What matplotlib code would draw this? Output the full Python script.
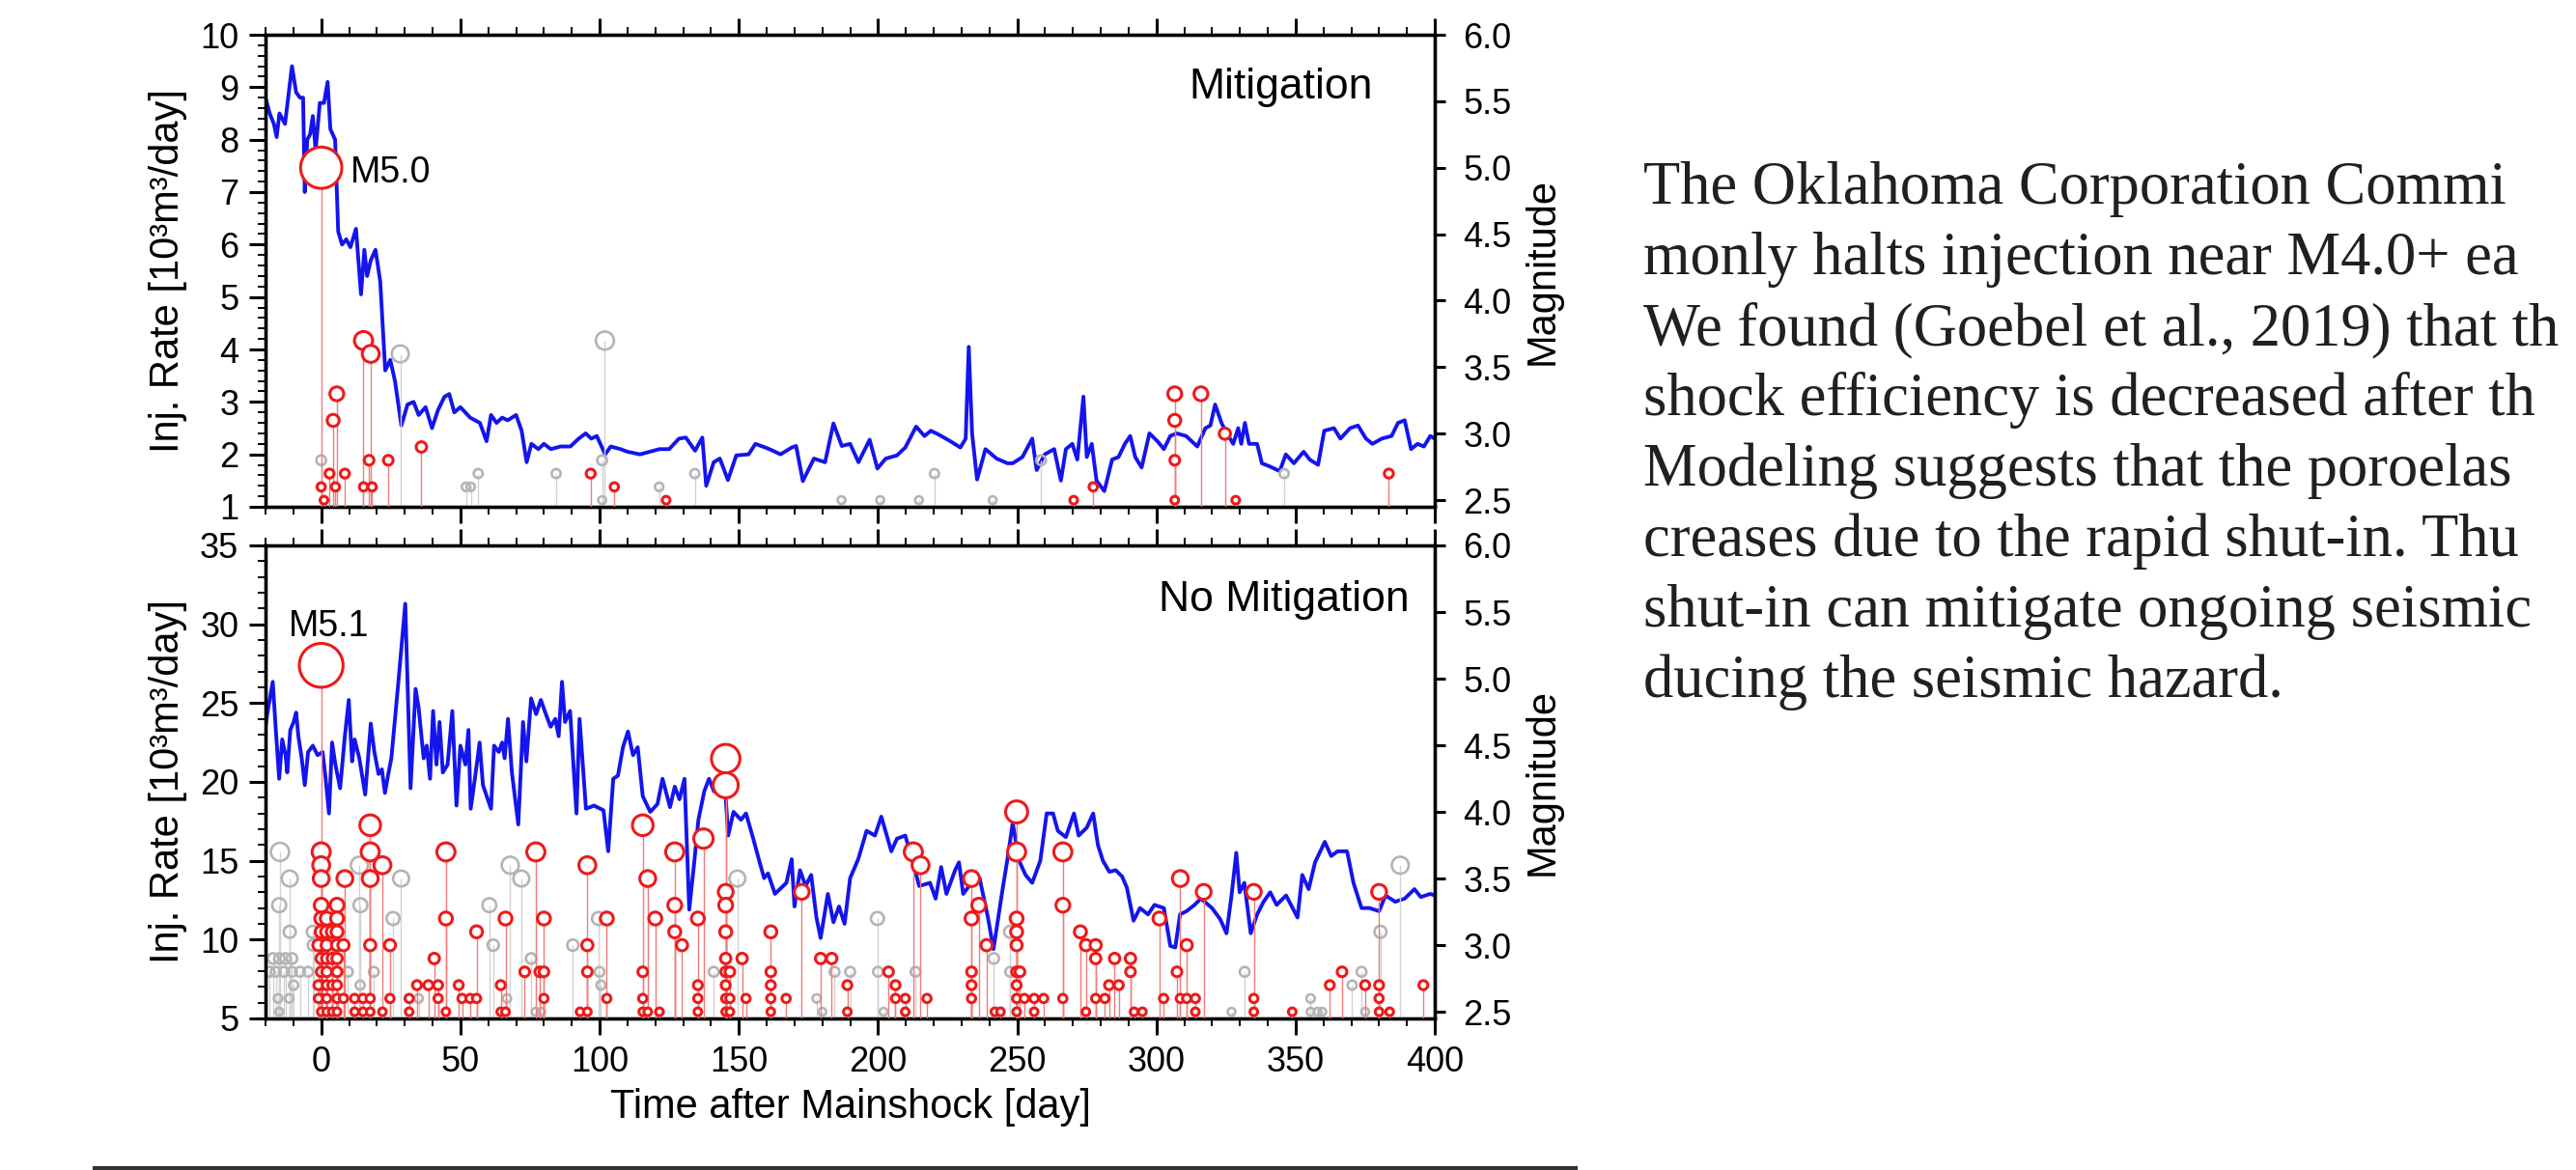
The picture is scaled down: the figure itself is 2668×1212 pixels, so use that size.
import numpy as np
import matplotlib.pyplot as plt
from matplotlib.lines import Line2D
from matplotlib.ticker import MultipleLocator, FormatStrFormatter

plt.rcParams['font.family'] = ['Liberation Sans', 'DejaVu Sans']

# injection rate [10^3 m^3/day] vs day after mainshock, "Mitigation" well
mit_rate = [(-20, 8.8), (-18.5, 8.5), (-17, 8.3), (-16, 8.05), (-15, 8.5), (-14, 8.4), (-13, 8.3),
            (-10.5, 9.4), (-9, 8.9), (-7.6, 8.8), (-6.5, 8.8), (-5.9, 7.0), (-5, 8.0), (-4, 8.1),
            (-3, 8.45), (-2, 7.8), (-0.5, 8.7), (1, 8.7), (2.3, 9.1), (3.3, 8.2), (5, 8.0),
            (6.1, 6.25), (7.5, 6.0), (9, 6.1), (10.5, 5.95), (12.5, 6.3), (14.3, 5.05), (15.5, 5.9),
            (16.5, 5.4), (17.8, 5.7), (19.5, 5.9), (21.2, 5.3), (23, 3.6), (24.8, 3.8), (26.5, 3.4),
            (28.8, 2.55), (31, 2.95), (33.2, 3.0), (35, 2.75), (37.5, 2.9), (39.8, 2.5), (42, 2.85),
            (44.3, 3.1), (46, 3.15), (47.8, 2.8), (50, 2.9), (53.5, 2.7), (57, 2.6), (59.4, 2.25),
            (61, 2.75), (63, 2.6), (65, 2.7), (67, 2.65), (70, 2.75), (72, 2.45), (73.8, 1.85),
            (75.5, 2.2), (78, 2.1), (80, 2.2), (82.5, 2.1), (86, 2.15), (89.5, 2.15), (92.5, 2.3),
            (95, 2.4), (97, 2.3), (99, 2.35), (102, 2.0), (104, 2.15), (107.5, 2.1), (110, 2.05),
            (114.5, 2.0), (118, 2.05), (121.5, 2.1), (125, 2.1), (128.5, 2.3), (131, 2.32),
            (134.3, 2.07), (136.9, 2.32), (138.3, 1.4), (141, 1.85), (143.2, 1.92), (146.1, 1.51),
            (149.1, 1.98), (153.5, 2.0), (156, 2.2), (161, 2.1), (165, 2.0), (169, 2.13), (170.6, 2.16),
            (173, 1.49), (177, 1.92), (181, 1.85), (184, 2.59), (187, 2.16), (190, 2.2), (193, 1.85),
            (197, 2.28), (199.8, 1.73), (202.8, 1.92), (206.8, 1.98), (209.8, 2.13), (213.7, 2.53),
            (216.7, 2.35), (219, 2.45), (221.7, 2.38), (225.7, 2.26), (229.6, 2.13), (231.5, 2.3),
            (232.6, 4.05), (233.8, 2.4), (235.6, 1.52), (238.6, 2.1), (242.6, 1.92), (246.5, 1.83),
            (248.4, 1.83), (251.9, 1.95), (255.4, 2.3), (257, 1.7), (259.9, 2.0), (263.3, 2.1),
            (265.7, 1.5), (267.5, 2.1), (269.8, 2.2), (271.6, 1.9), (273.8, 3.1), (275, 1.95),
            (276.8, 2.2), (278.5, 1.5), (281.3, 1.3), (284.1, 1.9), (286.4, 1.95), (288.7, 2.2),
            (290.6, 2.35), (292.4, 1.95), (294.7, 1.75), (297.5, 2.4), (300.4, 2.25), (302.7, 2.1),
            (305, 2.35), (307.3, 2.4), (310.7, 2.35), (314.7, 2.15), (317.6, 2.5), (319.4, 2.55),
            (321.1, 2.95), (323.4, 2.6), (325.3, 2.4), (327.6, 2.2), (329.4, 2.5), (330.5, 2.2),
            (331.8, 2.6), (333.3, 2.2), (336.2, 2.2), (337.9, 1.83), (340.7, 1.77), (344.3, 1.68),
            (346.5, 2.0), (349.4, 1.83), (352.9, 2.05), (355.1, 1.9), (358.1, 1.8), (360.3, 2.45),
            (363.8, 2.5), (366.1, 2.3), (369.6, 2.5), (372.4, 2.55), (375.3, 2.3), (377.6, 2.2),
            (381, 2.3), (384.5, 2.35), (386.8, 2.6), (389.2, 2.65), (391.5, 2.1), (393.8, 2.2),
            (396.1, 2.15), (398.4, 2.35), (400, 2.3)]

# injection rate, "No Mitigation" well
nomit_rate = [(-20, 23.5), (-19.4, 24.3), (-17.4, 26.35), (-16.3, 23.3), (-15.1, 20.2), (-14, 22.7),
              (-12.8, 21.7), (-12.2, 20.6), (-11.1, 23.3), (-9.9, 23.8), (-9, 24.4), (-8.2, 22.9),
              (-7, 21.5), (-5.9, 19.8), (-4.7, 21.9), (-3, 22.3), (-1.3, 21.7), (0.5, 21.9), (1.6, 20.2),
              (2.8, 18.0), (3.9, 22.5), (5.1, 21.1), (6.8, 19.6), (8.5, 22.9), (9.9, 25.2), (11.1, 21.3),
              (12, 22.7), (13.7, 21.5), (15.8, 19.2), (17.8, 23.7), (19.1, 21.9), (20.6, 20.5),
              (21.8, 20.8), (22.9, 19.3), (24.1, 20.5), (25.2, 21.5), (27.5, 25.9), (30.2, 31.3),
              (32.1, 19.6), (33.9, 25.9), (35, 24.7), (36.8, 21.5), (37.9, 22.3), (39.1, 20.2),
              (40.2, 24.5), (41.4, 21.1), (42.5, 23.8), (43.7, 20.6), (45.4, 21.1), (47.1, 24.5),
              (48.6, 18.5), (50, 22.3), (51.8, 21.1), (52.9, 23.3), (53.7, 18.3), (55.2, 20.2),
              (56.9, 22.5), (58.1, 19.8), (61, 18.3), (62.1, 22.3), (63.8, 21.9), (65, 22.5),
              (65.9, 21.5), (67.1, 24.0), (68.5, 20.6), (70.8, 17.3), (72.5, 23.8), (73.7, 21.3),
              (75.4, 25.3), (77.2, 24.3), (78.9, 25.2), (80.7, 24.3), (82.4, 23.5), (84.1, 24.0),
              (85.3, 22.9), (86.5, 26.35), (87.6, 23.8), (89.4, 24.5), (91.7, 18.0), (92.8, 24.0),
              (95.1, 18.3), (98, 18.5), (101.4, 18.2), (103.1, 15.6), (104.9, 20.2), (106.6, 20.4),
              (108.4, 22.2), (110.2, 23.2), (112, 21.7), (113.7, 22.2), (115.5, 19.1), (118.2, 18.1),
              (120.8, 18.6), (122.6, 20.2), (125.3, 18.4), (127, 19.7), (128.7, 18.9), (130.5, 20.2),
              (132.2, 11.9), (134, 14.9), (135.5, 17.6), (137.6, 19.4), (139.3, 20.2), (141.1, 19.4),
              (142.9, 20.2), (144.8, 20.4), (146.2, 16.6), (148.1, 18.1), (150.8, 17.6), (152.6, 18.0),
              (155.2, 16.4), (157.5, 14.9), (159.1, 13.9), (160.5, 14.2), (163, 12.9), (167.1, 13.6),
              (169, 15.1), (170, 12.1), (172, 14.4), (174, 13.4), (176, 14.1), (177.9, 11.4),
              (179.4, 10.1), (182, 12.9), (184, 11.1), (186, 12.1), (188, 11.0), (190, 13.9),
              (192.9, 15.1), (195.9, 16.9), (198.9, 16.6), (201.2, 17.8), (204.8, 15.6), (206.8, 16.4),
              (209.8, 16.6), (211.8, 15.4), (214.8, 13.4), (218.7, 13.6), (220.7, 12.6), (222.7, 14.6),
              (224.6, 12.9), (227.7, 14.4), (229.1, 14.9), (230.6, 12.9), (233.6, 13.6), (236.5, 13.9),
              (239.5, 11.4), (241.5, 9.4), (244.5, 12.9), (246.5, 15.1), (248.4, 17.4), (250.7, 15.0),
              (253, 14.1), (255.4, 13.6), (258.3, 15.0), (260.6, 18.0), (262.9, 18.0), (264.6, 16.9),
              (267.5, 16.5), (270.4, 18.0), (272.1, 16.6), (275, 17.1), (277.3, 18.0), (279, 16.0),
              (280.8, 15.0), (283.1, 14.3), (285.4, 14.4), (287.7, 14.0), (289.4, 13.3), (291.8, 11.2),
              (294.1, 12.0), (297, 11.6), (299.3, 12.2), (302.7, 12.0), (305, 9.6), (306.8, 9.5),
              (308.5, 11.6), (310.8, 11.8), (313.7, 12.2), (316, 12.6), (320, 12.0), (322.9, 11.3),
              (325.2, 10.4), (327, 12.8), (328.7, 15.5), (329.9, 13.0), (331.6, 13.6), (333.9, 10.4),
              (336.2, 11.6), (338.5, 12.4), (340.9, 13.0), (343.2, 12.2), (346.6, 12.8), (350.7, 11.4),
              (352.4, 14.1), (354.7, 13.2), (357, 14.9), (360.5, 16.2), (362.8, 15.3), (365.1, 15.6),
              (368.5, 15.6), (370.8, 13.6), (373.7, 12.0), (376.6, 12.0), (380, 11.8), (382.3, 12.8),
              (385.8, 12.4), (389.2, 12.6), (392.7, 13.2), (395, 12.7), (398.4, 12.9), (400, 12.8)]

# earthquakes (day, magnitude): red = near the well, gray = other events
mit_red = [(0, 5.0), (15.2, 3.7), (17.8, 3.6), (5.6, 3.3), (4.3, 3.1), (36, 2.9), (17.2, 2.8),
           (24.1, 2.8), (3, 2.7), (8.5, 2.7), (96.8, 2.7), (0, 2.6), (5.1, 2.6), (15.2, 2.6),
           (18.3, 2.6), (1, 2.5), (105.3, 2.6), (123.9, 2.5), (270.3, 2.5), (277.3, 2.6),
           (306.6, 3.3), (306.6, 3.1), (306.6, 2.8), (306.6, 2.5), (316, 3.3), (324.6, 3.0),
           (328.5, 2.5), (383.5, 2.7)]
mit_gray = [(0, 2.8), (28.4, 3.6), (52, 2.6), (53.7, 2.6), (56.4, 2.7), (84.4, 2.7), (100.9, 2.8),
            (100.9, 2.5), (101.9, 3.7), (121.4, 2.6), (134.2, 2.7), (186.9, 2.5), (200.8, 2.5),
            (214.7, 2.5), (220.3, 2.7), (241.2, 2.5), (258.6, 2.8), (345.9, 2.7)]

nomit_red = [(0, 5.1), (0, 3.7), (0, 3.6), (0, 3.5), (0, 3.3), (0, 3.2), (0, 3.1), (0, 3.0), (0, 2.9),
             (0, 2.8), (0, 2.7), (0, 2.6), (0, 2.5),
             (-1, 3.0), (-1, 2.7), (-1, 2.6),
             (2, 3.2), (2, 3.1), (2, 3.0), (2, 2.9), (2, 2.8), (2, 2.7), (2, 2.6), (2, 2.5),
             (4, 3.1), (4, 2.9), (4, 2.7), (4, 2.5),
             (5.7, 3.3), (5.7, 3.2), (5.7, 3.1), (5.7, 3.0), (5.7, 2.9), (5.7, 2.8), (5.7, 2.7),
             (5.7, 2.6), (5.7, 2.5),
             (8, 3.0), (8, 2.6), (8.5, 3.5), (12, 2.6), (12, 2.5), (15, 2.6), (15, 2.5),
             (17.6, 3.9), (17.6, 3.7), (17.6, 3.5), (17.6, 3.0), (17.6, 2.6), (17.6, 2.5),
             (22, 3.6), (22, 2.5), (24.7, 3.0), (24.7, 2.6), (31.6, 2.6), (31.6, 2.5),
             (34.4, 2.7), (38.5, 2.7), (40.6, 2.9), (42, 2.7), (42, 2.6),
             (44.8, 3.7), (44.8, 3.2), (44.8, 2.5), (49.4, 2.7), (50.6, 2.6), (53.5, 2.6),
             (55.8, 3.1), (55.8, 2.6), (64.5, 2.7), (64.5, 2.5), (66.2, 3.2), (66.2, 2.5),
             (73.1, 2.8), (77.1, 3.7), (78.5, 2.8), (80, 3.2), (80, 2.8), (80, 2.6), (93, 2.5),
             (95.6, 3.6), (95.6, 3.0), (95.6, 2.8), (95.6, 2.5), (102.6, 3.2), (102.6, 2.6),
             (115.5, 3.9), (115.5, 2.8), (115.5, 2.6), (115.5, 2.5), (117.3, 3.5), (117.3, 2.5),
             (120, 3.2), (121.5, 2.5), (127, 3.7), (127, 3.3), (127, 3.1), (129.6, 3.0),
             (135.3, 3.2), (135.3, 2.7), (135.3, 2.6), (135.3, 2.5), (137.3, 3.8),
             (145.3, 4.4), (145.3, 4.2), (145.3, 3.4), (145.3, 3.3), (145.3, 3.1), (145.3, 2.9),
             (145.3, 2.8), (145.3, 2.7), (145.3, 2.6), (145.3, 2.5),
             (146.8, 2.8), (146.8, 2.6), (146.8, 2.5), (151.2, 2.9), (152.6, 2.6),
             (161.5, 3.1), (161.5, 2.8), (161.5, 2.7), (161.5, 2.6), (161.5, 2.5), (167, 2.6),
             (172.6, 3.4), (179.4, 2.9), (183.4, 2.9), (189, 2.7), (189, 2.5), (203.8, 2.8),
             (206.3, 2.7), (206.3, 2.6), (209.8, 2.6), (209.8, 2.5), (212.7, 3.7), (215.3, 3.6),
             (217.6, 2.6), (233.6, 3.5), (233.6, 3.2), (233.6, 2.8), (233.6, 2.7), (233.6, 2.6),
             (236.2, 3.3), (239, 3.0), (242, 2.5), (244, 2.5),
             (249.8, 4.0), (249.8, 3.7), (249.8, 3.2), (249.8, 3.1), (249.8, 3.0), (249.8, 2.8),
             (249.8, 2.7), (249.8, 2.6), (249.8, 2.5), (251, 2.8), (252.6, 2.6), (256.1, 2.6),
             (256.1, 2.5), (259.5, 2.6), (266.4, 3.7), (266.4, 3.3), (266.4, 2.6), (272.7, 3.1),
             (274.7, 3.0), (274.7, 2.5), (278.2, 3.0), (278.2, 2.9), (278.2, 2.6), (281.5, 2.6),
             (283, 2.7), (285, 2.9), (286.5, 2.7), (290.7, 2.9), (290.7, 2.8), (292, 2.5), (295, 2.5),
             (301.1, 3.2), (302.6, 2.6), (307.4, 2.8), (308.6, 3.5), (308.6, 2.6), (310.9, 3.0),
             (310.9, 2.6), (314, 2.6), (314, 2.5), (317, 3.4), (335, 3.4), (335, 2.6), (335, 2.5),
             (348.8, 2.5), (362.3, 2.7), (366.7, 2.8), (375, 2.7), (380, 3.4), (380, 2.7),
             (380, 2.6), (380, 2.5), (383.8, 2.5), (395.9, 2.7)]
nomit_gray = [(-17.3, 2.9), (-15, 2.9), (-12.8, 2.9), (-10.5, 2.9), (-18.5, 2.8), (-16.3, 2.8),
              (-13.4, 2.8), (-10.5, 2.8), (-7.6, 2.8), (-4.7, 2.8), (-14.8, 3.7), (-11.3, 3.5),
              (-15.1, 3.3), (-11.3, 3.1), (-9.9, 2.7), (-15.5, 2.6), (-11.5, 2.6), (-15.1, 2.5),
              (-3, 3.1), (-2.8, 3.0), (13.7, 3.6), (14.1, 3.3), (9.6, 2.8), (14, 2.7), (18.9, 2.8),
              (25.8, 3.2), (28.7, 3.5), (35, 2.6), (60.4, 3.3), (61.8, 3.0), (66.7, 2.6), (67.9, 3.6),
              (71.9, 3.5), (75.4, 2.9), (77, 2.5), (79, 2.5), (90.4, 3.0), (99.6, 3.2), (100, 2.8),
              (100.5, 2.7), (141, 2.8), (149.5, 3.5), (178, 2.6), (180, 2.5), (184.4, 2.8),
              (190, 2.8), (199.8, 3.2), (200, 2.8), (202, 2.5), (213.5, 2.8), (241.6, 2.9),
              (247.5, 3.1), (247.5, 2.8), (327, 2.5), (331.7, 2.8), (355.4, 2.6), (355.4, 2.5),
              (357.9, 2.5), (359.6, 2.5), (370.3, 2.7), (373.7, 2.8), (375, 2.5), (380.5, 3.1),
              (387.6, 3.6)]

day_ticks = [0, 50, 100, 150, 200, 250, 300, 350, 400]
mag_ticks = [2.5, 3.0, 3.5, 4.0, 4.5, 5.0, 5.5, 6.0]

notes = ["The Oklahoma Corporation Commi",
         "monly halts injection near M4.0+ ea",
         "We found (Goebel et al., 2019) that th",
         "shock efficiency is decreased after th",
         "Modeling suggests that the poroelas",
         "creases due to the rapid shut-in. Thu",
         "shut-in can mitigate ongoing seismic",
         "ducing the seismic hazard."]

W, H = 2668, 1212
fig = plt.figure(figsize=(W / 100, H / 100), dpi=100)
fig.patch.set_facecolor('white')

MAG_LO, MAG_HI = 2.45, 6.0


def box(x0, y0, x1, y1):
    return [x0 / W, 1 - y1 / H, (x1 - x0) / W, (y1 - y0) / H]


def msize(mags):
    # circle grows with magnitude (outer diameter in px -> marker area in pt^2)
    d = 11 * np.exp(0.57 * (np.asarray(mags) - 2.5))
    return ((d - 3) * 0.72) ** 2


def panel(rect, rate, red, gray, ylim, ystep, yminor, name, name_xy, show_x):
    ax = fig.add_axes(rect)
    d, r = zip(*rate)
    ax.plot(d, r, color='#1414ee', lw=2.8)
    ax.set_xlim(-20, 400)
    ax.set_ylim(*ylim)
    ax.set_xticks(day_ticks)
    ax.xaxis.set_minor_locator(MultipleLocator(10))
    ax.yaxis.set_major_locator(MultipleLocator(ystep))
    ax.yaxis.set_minor_locator(MultipleLocator(yminor))
    ax.tick_params(which='both', direction='out', top=True, bottom=True, left=True,
                   labelsize=26, pad=8, labelbottom=show_x)
    ax.tick_params(which='major', length=12, width=2.2)
    ax.tick_params(which='minor', length=6, width=1.4)

    ax2 = ax.twinx()
    gd, gm = np.array(gray).T
    rd, rm = np.array(red).T
    ax2.vlines(gd, MAG_LO, gm, color='#d2d2d2', lw=1.0, zorder=1)
    ax2.scatter(gd, gm, s=msize(gm), facecolors='none', edgecolors='#b4b4b4',
                linewidths=1.9, zorder=2)
    ax2.vlines(rd, MAG_LO, rm, color='#f27a7a', lw=1.0, zorder=3)
    ax2.scatter(rd, rm, s=msize(rm), facecolors='white', edgecolors='#ee1a1a',
                linewidths=2.2, zorder=4)
    ax2.set_ylim(MAG_LO, MAG_HI)
    ax2.set_yticks(mag_ticks)
    ax2.yaxis.set_major_formatter(FormatStrFormatter('%.1f'))
    ax2.tick_params(axis='y', direction='out', length=8, width=2.2, labelsize=26, pad=13)

    for a in (ax, ax2):
        for s in a.spines.values():
            s.set_linewidth(2.4)

    ax.set_ylabel('Inj. Rate [10³m³/day]', fontsize=30)
    ax.yaxis.set_label_coords(-0.067, 0.5)
    ax2.set_ylabel('Magnitude', fontsize=30)
    ax2.yaxis.set_label_coords(1.076, 0.5)
    ax.text(name_xy[0], name_xy[1], name, transform=ax.transAxes, ha='right',
            va='baseline', fontsize=32)
    return ax, ax2


ax_t, ax2_t = panel(box(275, 36, 1486, 525), mit_rate, mit_red, mit_gray,
                    (1, 10), 1, 0.2, 'Mitigation', (0.947, 0.865), False)
ax_b, ax2_b = panel(box(275, 565, 1486, 1055), nomit_rate, nomit_red, nomit_gray,
                    (5, 35), 5, 1, 'No Mitigation', (0.978, 0.861), True)

ax2_t.text(10.4, 4.89, 'M5.0', ha='left', va='baseline', fontsize=27)
ax2_b.text(2.8, 5.32, 'M5.1', ha='center', va='baseline', fontsize=27)

ax_b.set_xlabel('Time after Mainshock [day]', fontsize=30)
ax_b.xaxis.set_label_coords(0.5, -0.146)

# slide text next to the figure
for i, line in enumerate(notes):
    fig.text(1702 / W, 1 - (211 + 73 * i) / H, line, fontsize=45,
             family='Liberation Serif', color='#231f20', ha='left', va='baseline')

# footer rule
fig.add_artist(Line2D([98 / W, 1632 / W], [1 - 1210 / H] * 2, lw=3, color='#333333'))

fig.savefig('out.png', dpi=100)
